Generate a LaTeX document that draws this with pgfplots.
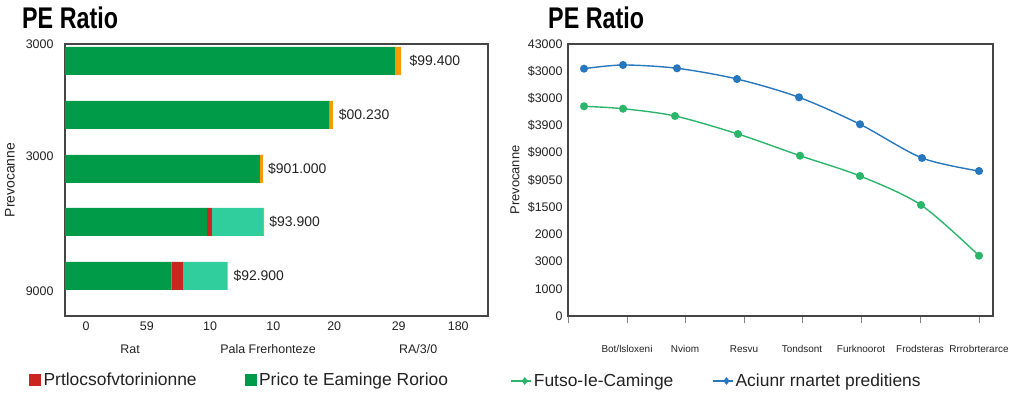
\documentclass[border=0pt]{standalone}
\usepackage{pgfplots}
\pgfplotsset{compat=1.18}
\usepackage{fontspec}
\setmainfont{Liberation Sans}
\usepackage{graphicx}
\definecolor{pegreen}{HTML}{009B48}
\definecolor{pered}{HTML}{C9261F}
\definecolor{peteal}{HTML}{2FCE9C}
\definecolor{peorange}{HTML}{F59A00}
\definecolor{lgreen}{HTML}{2BB56B}
\definecolor{lblue}{HTML}{2677BD}
\definecolor{axgray}{HTML}{454545}
\definecolor{txt}{HTML}{222222}
\begin{document}
\begin{tikzpicture}
\path (0bp,0bp) rectangle (1024bp,394bp);
\node[anchor=north west, inner sep=0] at (22bp,387bp) {\scalebox{0.78}[1]{\fontsize{30}{30}\selectfont\bfseries PE Ratio}};
\node[anchor=north west, inner sep=0] at (548bp,387bp) {\scalebox{0.78}[1]{\fontsize{30}{30}\selectfont\bfseries PE Ratio}};

% ---------- left: stacked horizontal bars ----------
\begin{axis}[at={(65bp,78bp)}, anchor=south west, width=423bp, height=272bp, scale only axis,
  xmin=0, xmax=34.1, ymin=0, ymax=272, clip=false,
  xbar stacked, bar width=28bp,
  axis line style={axgray, line width=1.4pt},
  major tick length=0,
  xtick={1.7,6.6,11.7,16.8,21.7,26.9,31.7},
  xticklabels={0,59,10,10,20,29,180},
  ytick={25,160,272},
  yticklabels={9000,3000,3000},
  ticklabel style={font=\fontsize{12.5}{12.5}\selectfont, text=txt},
  xticklabel style={yshift=-2bp},
  yticklabel style={xshift=-8bp},
  ]
\addplot[fill=pegreen, draw=none] coordinates {(26.6,255) (21.3,201) (15.7,147) (11.45,94) (8.6,40)};
\addplot[fill=pered, draw=none] coordinates {(0,255) (0,201) (0,147) (0.4,94) (0.9,40)};
\addplot[fill=peteal, draw=none] coordinates {(0,255) (0,201) (0,147) (4.1,94) (3.6,40)};
\addplot[fill=peorange, draw=none] coordinates {(0.5,255) (0.3,201) (0.25,147) (0.1,94) (0,40)};
\node[anchor=west, font=\fontsize{14}{14}\selectfont, text=txt] at (axis cs:27.5,255) {\$99.400};
\node[anchor=west, font=\fontsize{14}{14}\selectfont, text=txt] at (axis cs:21.8,201) {\$00.230};
\node[anchor=west, font=\fontsize{14}{14}\selectfont, text=txt] at (axis cs:16.1,147) {\$901.000};
\node[anchor=west, font=\fontsize{14}{14}\selectfont, text=txt] at (axis cs:16.2,94) {\$93.900};
\node[anchor=west, font=\fontsize{14}{14}\selectfont, text=txt] at (axis cs:13.3,40) {\$92.900};
\node[font=\fontsize{12.5}{12.5}\selectfont, text=txt] at ([yshift=-33bp]rel axis cs:0.154,0) {Rat};
\node[font=\fontsize{12.5}{12.5}\selectfont, text=txt] at ([yshift=-33bp]rel axis cs:0.48,0) {Pala Frerhonteze};
\node[font=\fontsize{12.5}{12.5}\selectfont, text=txt] at ([yshift=-33bp]rel axis cs:0.835,0) {RA/3/0};
\node[rotate=90, font=\fontsize{14}{14}\selectfont, text=txt] at ([xshift=-55bp]rel axis cs:0,0.5) {Prevocanne};
\end{axis}

% ---------- left legend ----------
\begin{axis}[at={(29bp,14bp)}, anchor=south west, width=1bp, height=1bp, scale only axis,
  hide axis, xmin=0, xmax=1, ymin=0, ymax=1,
  legend columns=2,
  legend style={at={(0,0)}, anchor=west, draw=none, fill=none, inner sep=0pt,
    nodes={inner xsep=3bp, inner ysep=1bp},
    font=\fontsize{17.5}{17.5}\selectfont, text=txt,
    /tikz/every even column/.append style={column sep=45bp}},
  legend image code/.code={\fill[#1] (0bp,-5.5bp) rectangle (11bp,5.5bp);},
  ]
\addlegendimage{pered}
\addlegendentry{Prtlocsofvtorinionne}
\addlegendimage{pegreen}
\addlegendentry{Prico te Eaminge Rorioo}
\end{axis}

% ---------- right: lines ----------
\begin{axis}[at={(568bp,78bp)}, anchor=south west, width=425bp, height=272bp, scale only axis,
  xmin=568, xmax=993, ymin=0, ymax=10000, clip=false,
  axis line style={axgray, line width=1.4pt},
  tick pos=left, tick align=outside,
  xtick={568,627,685,744,802,861,920,979},
  xticklabels={,Bot/lsloxeni,Nviom,Resvu,Tondsont,Furknoorot,Frodsteras,Rrrobrterarce},
  xtick style={gray, line width=0.8pt},
  x tick label style={font=\fontsize{10}{10}\selectfont, text=txt, yshift=-19bp},
  major tick length=7bp,
  ytick={0,1000,...,10000},
  yticklabels={0,1000,3000,2000,\$1500,\$9050,\$9000,\$3900,\$3000,\$3000,43000},
  ytick style={draw=none},
  y tick label style={font=\fontsize{12.5}{12.5}\selectfont, text=txt, xshift=5bp},
  scaled y ticks=false,
  legend columns=2,
  legend style={at={(-0.1365,-0.239)}, anchor=west, draw=none, fill=none, inner sep=0pt,
    nodes={inner xsep=2.5bp, inner ysep=1bp},
    font=\fontsize{17.5}{17.5}\selectfont, text=txt,
    /tikz/every even column/.append style={column sep=36bp}},
  legend image code/.code={\draw[mark repeat=2,mark phase=2,#1, line width=1.2pt, mark=diamond*, mark size=3bp] plot coordinates {(0bp,0bp)(14bp,0bp)(20bp,0bp)};},
  ]
\addplot[lgreen, line width=1.4pt, smooth, tension=0.5, mark=*, mark size=3.3bp, mark options={fill=lgreen}]
  coordinates {(584,7710)(623,7621)(675,7353)(738,6691)(800,5893)(860,5147)(921,4081)(979,2217)};
\addlegendentry{Futso-Ie-Caminge}
\addplot[lblue, line width=1.4pt, smooth, tension=0.5, mark=*, mark size=3.3bp, mark options={fill=lblue}]
  coordinates {(584,9092)(623,9228)(677,9107)(737,8713)(799,8040)(860,7048)(922,5809)(979,5331)};
\addlegendentry{Aciunr rnartet preditiens}
\node[rotate=90, font=\fontsize{13}{13}\selectfont, text=txt] at ([xshift=-53bp]rel axis cs:0,0.5) {Prevocanne};
\end{axis}
\end{tikzpicture}
\end{document}
